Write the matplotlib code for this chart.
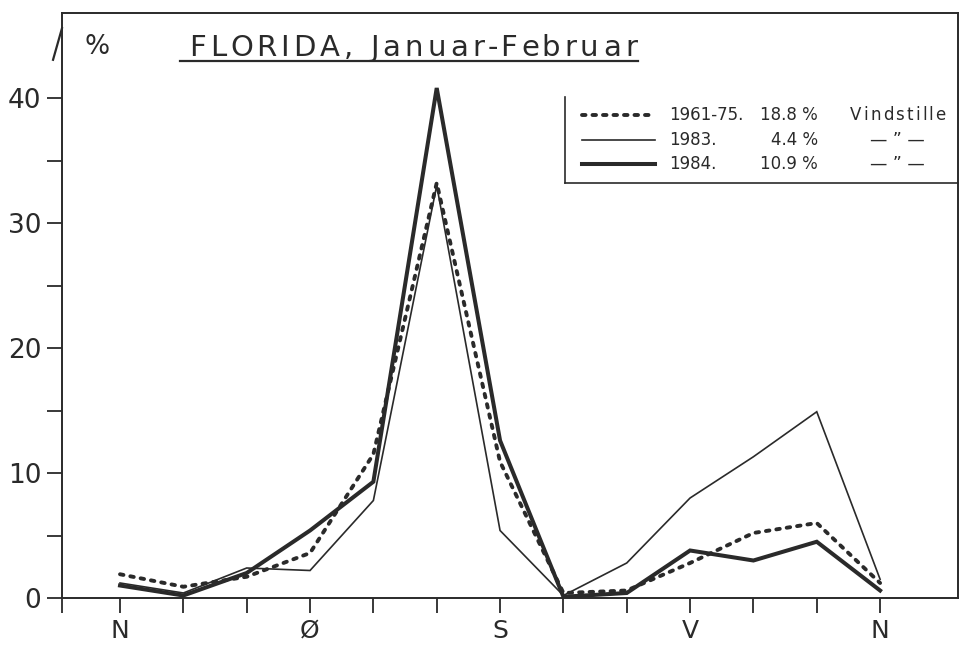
import matplotlib
matplotlib.use("Agg")
import matplotlib.pyplot as plt
from matplotlib.lines import Line2D
from matplotlib.font_manager import FontProperties
import numpy as np

# ── data: wind direction frequency (%), N -> N in 30° steps ─────────────────
directions = ["N", "", "", "Ø", "", "", "S", "", "", "V", "", "", "N"]

normal_1961_75 = [1.9, 0.9, 1.7, 3.6, 11.5, 33.2, 10.9, 0.4, 0.6, 2.8, 5.2, 6.0, 1.2]
year_1983      = [1.2, 0.4, 2.4, 2.2, 7.8, 33.0, 5.4, 0.2, 2.8, 8.0, 11.3, 14.9, 1.5]
year_1984      = [1.0, 0.2, 2.0, 5.4, 9.3, 40.8, 12.6, 0.1, 0.4, 3.8, 3.0, 4.5, 0.6]

legend_years  = ["1961-75.", "1983.", "1984."]
legend_calm   = ["18.8 %", "4.4 %", "10.9 %"]
legend_note   = ["Vindstille", "— ” —", "— ” —"]

INK = "#2a2a2a"
W, H = 961, 647

def px(x, y):
    return x / W, 1 - y / H

fig = plt.figure(figsize=(W / 100, H / 100), dpi=100)
ax = fig.add_axes([62 / W, 1 - 598 / H, (958 - 62) / W, (598 - 13) / H])
renderer = fig.canvas.get_renderer()

def text_width(s, size):
    prop = FontProperties(size=size)
    w, _, _ = renderer.get_text_width_height_descent(s + "x", prop, ismath=False)
    wx, _, _ = renderer.get_text_width_height_descent("x", prop, ismath=False)
    return w - wx

def spaced_text(x0, y, s, size, tracking, va="baseline"):
    # letter-spaced text, placed char by char (pixel coords)
    for k, ch in enumerate(s):
        xk = x0 + text_width(s[:k], size) + k * tracking if k else x0
        fig.text(*px(xk, y), ch, fontsize=size, color=INK, ha="left", va=va)

x = np.arange(len(directions))
ax.plot(x, year_1983, color=INK, lw=1.2, solid_joinstyle="miter")
ax.plot(x, year_1984, color=INK, lw=2.9, solid_joinstyle="miter")
ax.plot(x, normal_1961_75, color=INK, lw=2.8, linestyle=(0, (0.9, 1.8)),
        dash_capstyle="round")

ax.set_xlim(-0.916, 13.23)
ax.set_ylim(0, 46.8)

# ticks
ax.set_xticks(list(x) + [-0.916])
ax.set_xticklabels(directions + [""])
ax.set_yticks(np.arange(0, 45, 5))
ax.set_yticklabels([str(v) if v % 10 == 0 else "" for v in range(0, 45, 5)])
ax.tick_params(axis="x", direction="out", length=11, width=1.3, color=INK,
               labelsize=18, labelcolor=INK, pad=4)
ax.tick_params(axis="y", direction="out", length=11, width=1.3, color=INK,
               labelsize=19, labelcolor=INK, pad=4)

for s in ax.spines.values():
    s.set_color(INK)
    s.set_linewidth(1.4)

# half arrow head on the y axis
ax.plot([-0.010, 0.0], [0.920, 0.974], transform=ax.transAxes, color=INK,
        lw=1.6, clip_on=False)

# title
fig.text(*px(84, 54), "%", fontsize=19, color=INK, ha="left", va="baseline")
spaced_text(189, 56, "FLORIDA, Januar-Februar", 21, 4.1)
fig.add_artist(Line2D([px(180, 0)[0], px(638, 0)[0]], [px(0, 61)[1]] * 2,
                      transform=fig.transFigure, color=INK, lw=1.6))

# legend box (left and bottom sides only)
fig.add_artist(Line2D([px(565, 0)[0]] * 2, [px(0, 97)[1], px(0, 183)[1]],
                      transform=fig.transFigure, color=INK, lw=1.2))
fig.add_artist(Line2D([px(565, 0)[0], px(958, 0)[0]], [px(0, 183)[1]] * 2,
                      transform=fig.transFigure, color=INK, lw=1.2))

rows_y = [115, 140, 164]
styles = [dict(lw=2.8, linestyle=(0, (0.9, 1.8)), dash_capstyle="round"),
          dict(lw=1.2),
          dict(lw=2.9)]
for yy, st, yr, calm, note in zip(rows_y, styles, legend_years, legend_calm, legend_note):
    fig.add_artist(Line2D([px(582, 0)[0], px(655, 0)[0]], [px(0, yy)[1]] * 2,
                          transform=fig.transFigure, color=INK, **st))
    fig.text(*px(669, yy), yr, fontsize=12, color=INK, ha="left", va="center")
    fig.text(*px(818, yy), calm, fontsize=12, color=INK, ha="right", va="center")
    if note == "Vindstille":
        spaced_text(850, yy, note, 12, 2.2, va="center")
    else:
        fig.text(*px(897, yy), note, fontsize=12.5, color=INK, ha="center", va="center")

fig.savefig("out.png", dpi=100, facecolor="white")
